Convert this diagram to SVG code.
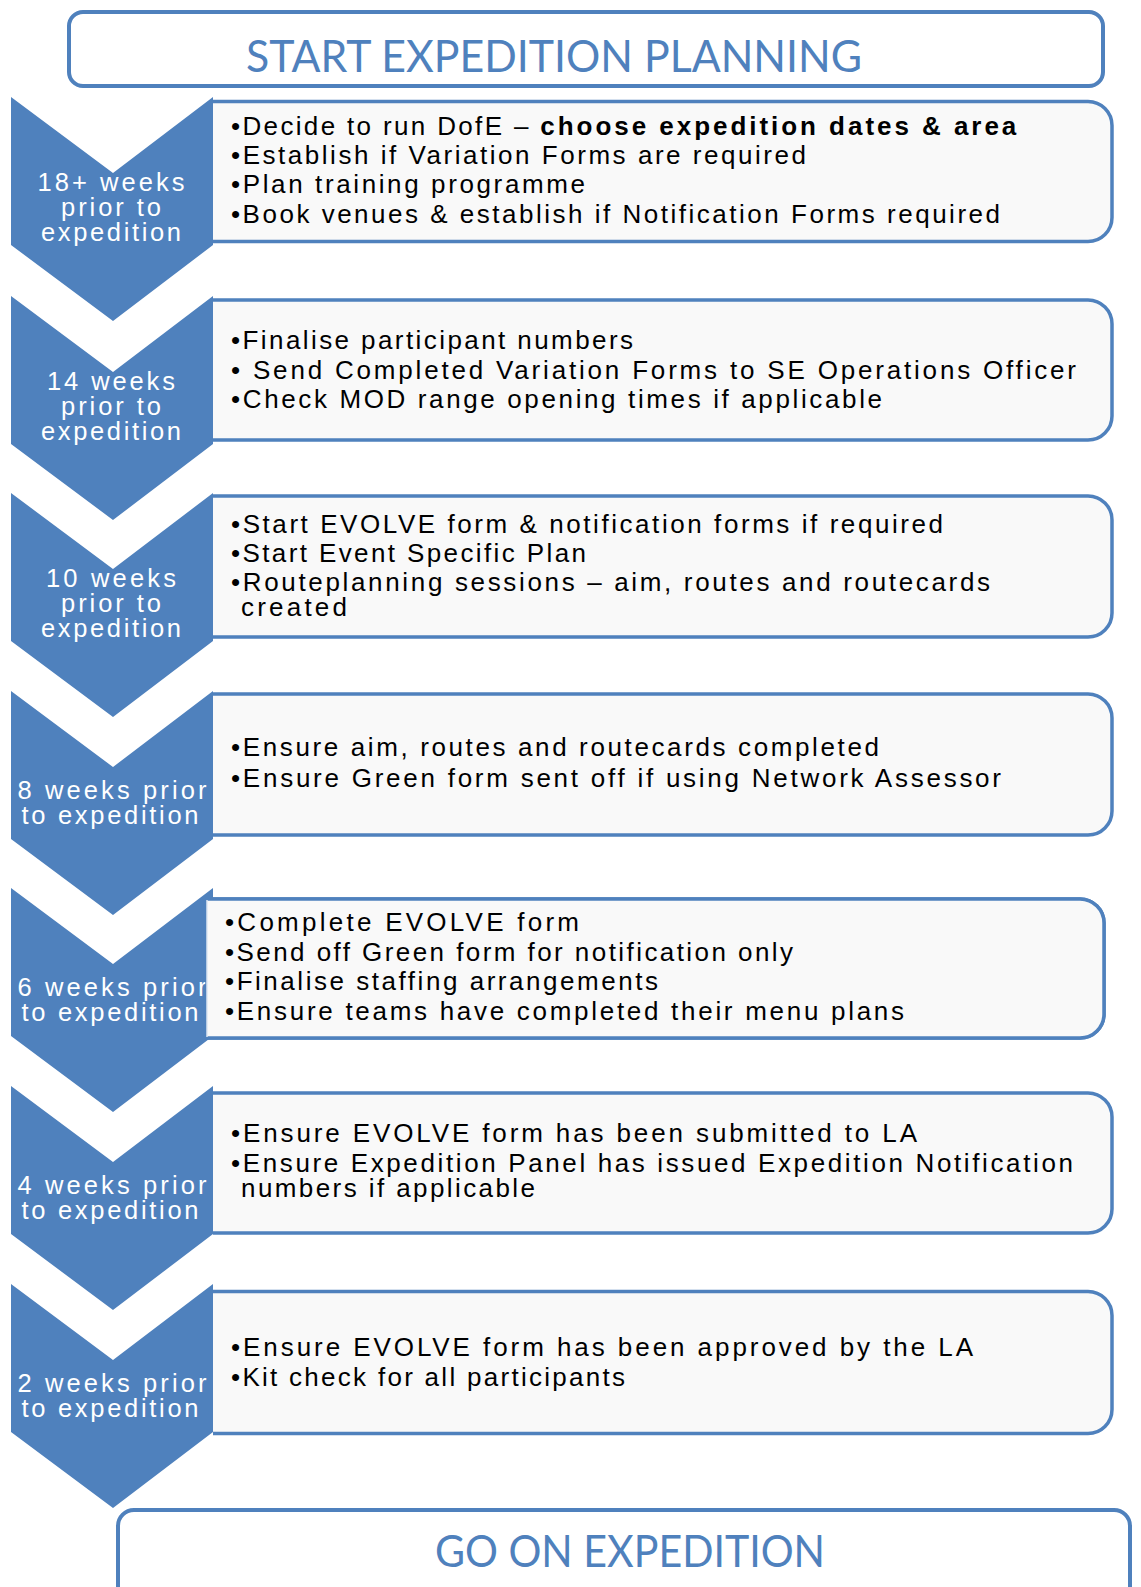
<svg xmlns="http://www.w3.org/2000/svg" width="1141" height="1587" viewBox="0 0 1141 1587">
<style>
.chev{fill:#4f81bd}
.box{fill:#f9f9f9;stroke:#4f81bd;stroke-width:3.5}
.term{fill:#ffffff;stroke:#4f81bd;stroke-width:4}
.lbl{font-family:"Liberation Sans",Arial,sans-serif;font-size:25.5px;fill:#ffffff;text-anchor:middle}
.txt{font-family:"Liberation Sans",Arial,sans-serif;font-size:26px;fill:#000000}
.ttl{font-family:Lato,"Liberation Sans",sans-serif;font-size:44px;fill:#4f81bd}
</style>
<rect width="1141" height="1587" fill="#ffffff"/>
<g id="start">
<rect class="term" x="69" y="12" width="1034" height="74" rx="14"/>
<text class="ttl" x="246" y="72" textLength="616" lengthAdjust="spacingAndGlyphs">START EXPEDITION PLANNING</text>
</g>
<g id="connectors"></g>
<g id="step1">
<polygon class="chev" points="11,97 113,173 213,97 213,245 113,321 11,245"/>
<text class="lbl" x="111" y="191" textLength="147">18+ weeks</text>
<text class="lbl" x="111" y="216" textLength="100">prior to</text>
<text class="lbl" x="111" y="241" textLength="140">expedition</text>
<path class="box" d="M213,101.5 H1088 A24,24 0 0 1 1112,125.5 V217.5 A24,24 0 0 1 1088,241.5 H213"/>
<text class="txt" x="231" y="135"><tspan textLength="307">•Decide to run DofE – </tspan><tspan font-weight="bold" textLength="476">choose expedition dates &amp; area</tspan></text>
<text class="txt" x="231" y="164" textLength="575">•Establish if Variation Forms are required</text>
<text class="txt" x="231" y="193" textLength="354">•Plan training programme</text>
<text class="txt" x="231" y="223" textLength="769">•Book venues &amp; establish if Notification Forms required</text>
</g>
<g id="step2">
<polygon class="chev" points="11,296 113,372 213,296 213,444 113,520 11,444"/>
<text class="lbl" x="111" y="390" textLength="128">14 weeks</text>
<text class="lbl" x="111" y="415" textLength="100">prior to</text>
<text class="lbl" x="111" y="440" textLength="140">expedition</text>
<path class="box" d="M213,300 H1088 A24,24 0 0 1 1112,324 V416 A24,24 0 0 1 1088,440 H213"/>
<text class="txt" x="231" y="349" textLength="402">•Finalise participant numbers</text>
<text class="txt" x="231" y="379" textLength="845">• Send Completed Variation Forms to SE Operations Officer</text>
<text class="txt" x="231" y="408" textLength="651">•Check MOD range opening times if applicable</text>
</g>
<g id="step3">
<polygon class="chev" points="11,493 113,569 213,493 213,641 113,717 11,641"/>
<text class="lbl" x="111" y="587" textLength="130">10 weeks</text>
<text class="lbl" x="111" y="612" textLength="100">prior to</text>
<text class="lbl" x="111" y="637" textLength="140">expedition</text>
<path class="box" d="M213,496 H1088 A24,24 0 0 1 1112,520 V613 A24,24 0 0 1 1088,637 H213"/>
<text class="txt" x="231" y="533" textLength="712">•Start EVOLVE form &amp; notification forms if required</text>
<text class="txt" x="231" y="562" textLength="355">•Start Event Specific Plan</text>
<text class="txt" x="231" y="591" textLength="759">•Routeplanning  sessions – aim, routes and routecards</text>
<text class="txt" x="241" y="616" textLength="106">created</text>
</g>
<g id="step4">
<polygon class="chev" points="11,691 113,767 213,691 213,839 113,915 11,839"/>
<text class="lbl" x="112" y="799" textLength="189">8 weeks prior</text>
<text class="lbl" x="110" y="824" textLength="177">to expedition</text>
<path class="box" d="M213,694 H1088 A24,24 0 0 1 1112,718 V811 A24,24 0 0 1 1088,835 H213"/>
<text class="txt" x="231" y="756" textLength="648">•Ensure aim, routes and routecards completed</text>
<text class="txt" x="231" y="787" textLength="770">•Ensure Green form sent off if using Network Assessor</text>
</g>
<g id="step5">
<polygon class="chev" points="11,888 113,964 213,888 213,1036 113,1112 11,1036"/>
<text class="lbl" x="112" y="996" textLength="189">6 weeks prior</text>
<text class="lbl" x="110" y="1021" textLength="177">to expedition</text>
<path class="box" d="M207,899 H1080 A24,24 0 0 1 1104,923 V1014 A24,24 0 0 1 1080,1038 H207 Z" stroke="none"/>
<path class="box" fill="none" d="M207,899 H1080 A24,24 0 0 1 1104,923 V1014 A24,24 0 0 1 1080,1038 H207"/>
<line x1="207" y1="900" x2="207" y2="1037" stroke="#dde6f2" stroke-width="1.5"/>
<text class="txt" x="225" y="931" textLength="354">•Complete EVOLVE form</text>
<text class="txt" x="225" y="961" textLength="568">•Send off Green form for notification only</text>
<text class="txt" x="225" y="990" textLength="433">•Finalise staffing arrangements</text>
<text class="txt" x="225" y="1020" textLength="679">•Ensure teams have completed their menu plans</text>
</g>
<g id="step6">
<polygon class="chev" points="11,1086 113,1162 213,1086 213,1234 113,1310 11,1234"/>
<text class="lbl" x="112" y="1194" textLength="189">4 weeks prior</text>
<text class="lbl" x="110" y="1219" textLength="177">to expedition</text>
<path class="box" d="M213,1093 H1088 A24,24 0 0 1 1112,1117 V1209 A24,24 0 0 1 1088,1233 H213"/>
<text class="txt" x="231" y="1142" textLength="686">•Ensure EVOLVE form has been submitted to LA</text>
<text class="txt" x="231" y="1172" textLength="842">•Ensure Expedition Panel has issued Expedition Notification</text>
<text class="txt" x="241" y="1197" textLength="294">numbers if applicable</text>
</g>
<g id="step7">
<polygon class="chev" points="11,1284 113,1360 213,1284 213,1432 113,1508 11,1432"/>
<text class="lbl" x="112" y="1392" textLength="189">2 weeks prior</text>
<text class="lbl" x="110" y="1417" textLength="177">to expedition</text>
<path class="box" d="M213,1291.5 H1088 A24,24 0 0 1 1112,1315.5 V1409.5 A24,24 0 0 1 1088,1433.5 H213"/>
<text class="txt" x="231" y="1356" textLength="742">•Ensure EVOLVE form has been approved by the LA</text>
<text class="txt" x="231" y="1386" textLength="394">•Kit check for all participants</text>
</g>
<g id="end">
<rect class="term" x="118" y="1510" width="1012" height="110" rx="16"/>
<text class="ttl" x="435" y="1567" textLength="390" lengthAdjust="spacingAndGlyphs" font-size="42">GO ON EXPEDITION</text>
</g>
</svg>
